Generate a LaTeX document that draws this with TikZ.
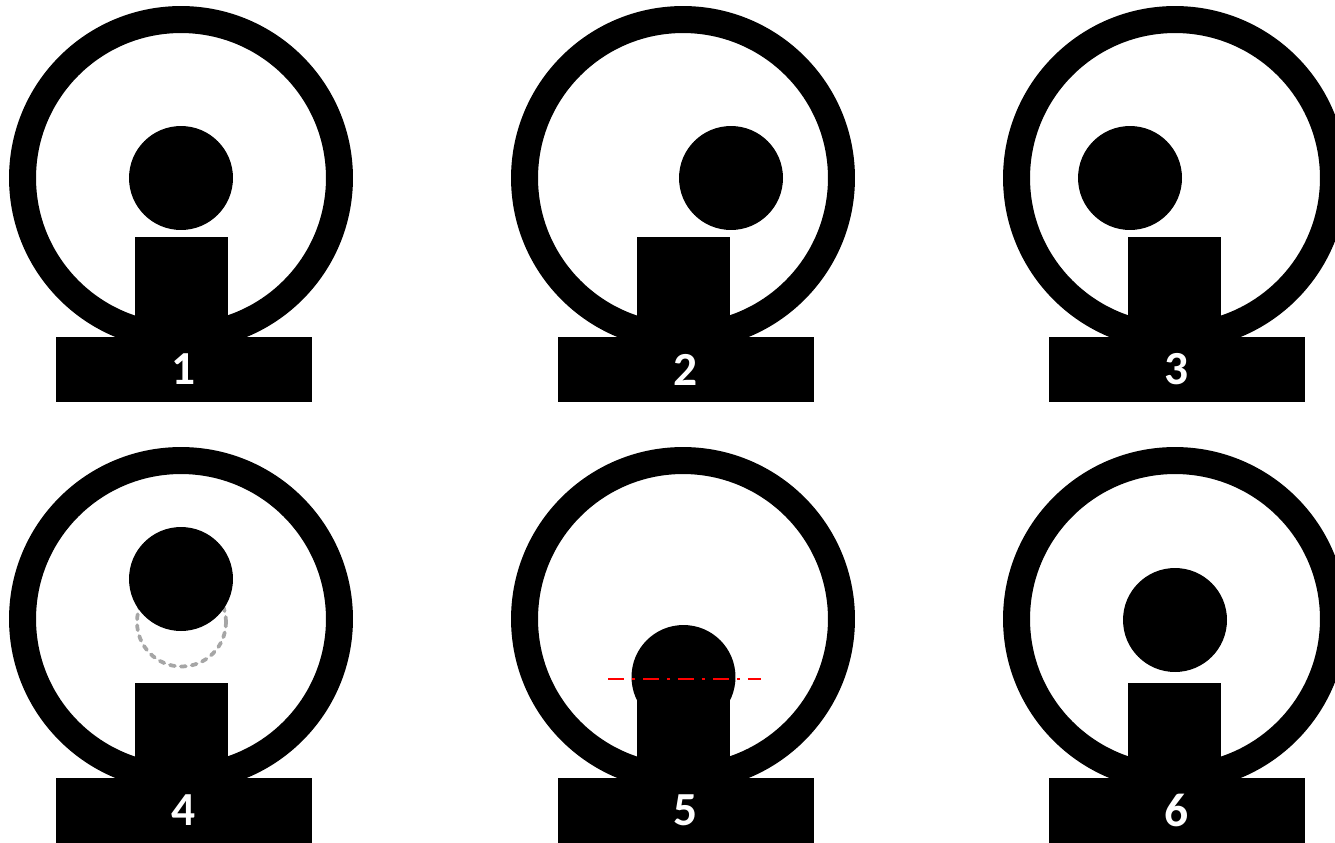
\documentclass[tikz,border=0pt]{standalone}
\usepackage{fontspec}
\setmainfont{Carlito}
\usetikzlibrary{positioning}
\definecolor{ghostgray}{HTML}{A6A6A6}
\tikzset{
  wheel/.style={circle, draw=black, line width=0.54cm, minimum size=6.34cm,
    inner sep=0pt},
  ball/.style={circle, fill=black, minimum size=2.08cm, inner sep=0pt},
  post/.style={rectangle, fill=black, minimum width=1.86cm,
    minimum height=2cm, inner sep=0pt},
  lowpost/.style={post, minimum height=1.9cm},
  plinth/.style={rectangle, fill=black, minimum width=5.12cm,
    minimum height=1.3cm, inner sep=0pt, text=white,
    font=\fontsize{27pt}{32pt}\selectfont\bfseries},
  ghost/.style={circle, draw=ghostgray, line width=0.075cm, minimum size=1.78cm,
    inner sep=0pt, dash pattern=on 0.1cm off 0.12cm, line cap=round},
  levelline/.style={draw=red, line width=0.045cm,
    dash pattern=on 0.32cm off 0.16cm on 0.06cm off 0.16cm},
}

\begin{document}
\begin{tikzpicture}[x=0.02cm, y=-0.02cm]
\path[use as bounding box, clip] (0,0) rectangle (1335,842);
% panel 1: ball centred
\node[wheel] (w1) at (181,178) {};
\node[ball] (b1) at (181,178) {};
\node[post] (p1) at (181.5,287) {};
\node[plinth] (s1) at (184,369.5) {1};
% panel 2: ball moved right
\node[wheel] (w2) at (683,178) {};
\node[ball] (b2) at (731,178) {};
\node[post] (p2) at (683.5,287) {};
\node[plinth] (s2) at (686,369.5) {2};
% panel 3: ball moved left
\node[wheel] (w3) at (1175,178) {};
\node[ball] (b3) at (1130,178) {};
\node[post] (p3) at (1174.5,287) {};
\node[plinth] (s3) at (1177,369.5) {3};
% panel 4: ball raised, old place dashed
\node[wheel] (w4) at (181,619) {};
\node[ghost] (g4) at (181.5,622) {};
\node[ball] (b4) at (181,579) {};
\node[lowpost] (p4) at (181.5,730.5) {};
\node[plinth] (s4) at (184,810.5) {4};
% panel 5: ball sunk onto the post
\node[wheel] (w5) at (683,619) {};
\node[lowpost] (p5) at (683.5,730.5) {};
\node[ball] (b5) at (683.5,677) {};
\node[plinth] (s5) at (686,810.5) {5};
\coordinate (l5a) at (608,679);
\coordinate (l5b) at (761,679);
\draw[levelline] (l5a) -- (l5b);
% panel 6: ball centred again
\node[wheel] (w6) at (1175,619) {};
\node[ball] (b6) at (1175,620) {};
\node[lowpost] (p6) at (1174.5,730) {};
\node[plinth] (s6) at (1177,810.5) {6};
\end{tikzpicture}
\end{document}
